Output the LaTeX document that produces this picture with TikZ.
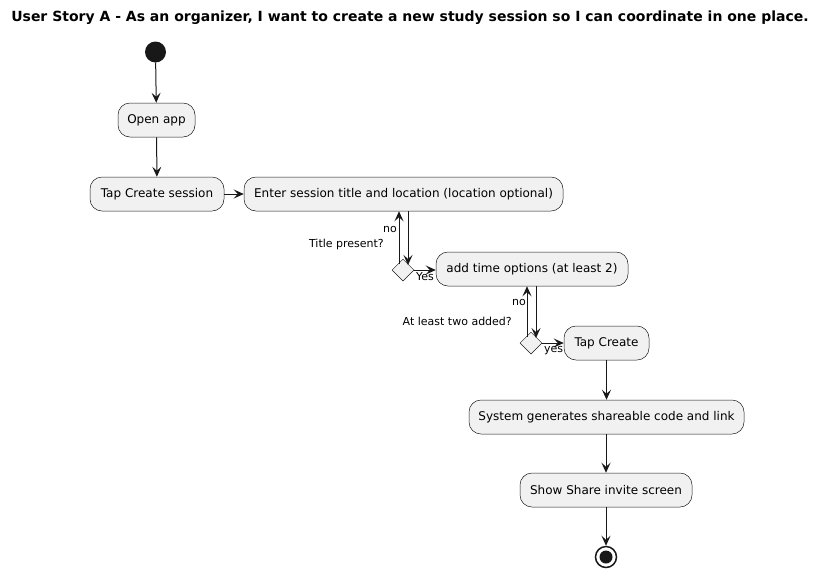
\documentclass[tikz,border=0pt]{standalone}
\usepackage{fontspec}
\setmainfont{DejaVu Sans}
\usetikzlibrary{arrows.meta,shapes.geometric}
\definecolor{lc}{HTML}{181818}
\definecolor{bf}{HTML}{F1F1F1}
\begin{document}
\begin{tikzpicture}[x=1pt,y=-1pt,
  act/.style={draw=lc,fill=bf,line width=0.5pt,rounded corners=12pt,minimum height=34pt,inner sep=0pt,font=\fontsize{12}{14}\selectfont},
  dec/.style={draw=lc,fill=bf,line width=0.5pt,diamond,minimum width=22pt,minimum height=22pt,inner sep=0pt},
  arr/.style={draw=lc,line width=1pt,-{Stealth[length=10pt,width=9pt,inset=4pt]}},
  lbl/.style={font=\fontsize{11}{13}\selectfont,inner sep=0pt}]
\useasboundingbox (0,0) rectangle (826,574);
\node[font=\bfseries\fontsize{14}{16}\selectfont] (title) at (410,18) {User Story A - As an organizer, I want to create a new study session so I can coordinate in one place.};
\node[circle,fill=lc,minimum size=21pt,inner sep=0pt] (start) at (155.5,52) {};
\node[act,minimum width=77pt] (open) at (156.5,120) {Open app};
\node[act,minimum width=134pt] (tap) at (157,194) {Tap Create session};
\node[act,minimum width=319pt] (enter) at (403.5,194) {Enter session title and location (location optional)};
\node[dec] (d1) at (403,270) {};
\node[act,minimum width=192pt] (add) at (532,269) {add time options (at least 2)};
\node[dec] (d2) at (531,343) {};
\node[act,minimum width=85pt] (create) at (606.5,343) {Tap Create};
\node[act,minimum width=275pt] (sys) at (606.5,417) {System generates shareable code and link};
\node[act,minimum width=172pt] (show) at (606,490) {Show Share invite screen};
\node[circle,draw=lc,line width=1.5pt,minimum size=21pt,inner sep=0pt] (end) at (606,557) {};
\node[circle,fill=lc,minimum size=13pt,inner sep=0pt] at (end) {};
\draw[arr] (start) -- (open);
\draw[arr] (open) -- (tap);
\draw[arr] (tap) -- (enter);
\draw[arr] (enter.south -| 408,0) -- (408,265);
\draw[arr] (399,264) -- (enter.south -| 399,0);
\draw[arr] (d1.east) -- (add.west |- d1.east);
\draw[arr] (add.south -| 536,0) -- (536,338);
\draw[arr] (527,337) -- (add.south -| 527,0);
\draw[arr] (d2.east) -- (create.west |- d2.east);
\draw[arr] (create.south) -- (sys.north -| create.south);
\draw[arr] (sys.south -| show.north) -- (show.north);
\draw[arr] (show.south) -- (end.north);
\node[lbl,anchor=east] (no1) at (397,229) {no};
\node[lbl,anchor=east] (q1) at (384,244) {Title present?};
\node[lbl,anchor=west] (yes1) at (416,277) {Yes};
\node[lbl,anchor=east] (no2) at (526,302) {no};
\node[lbl,anchor=east] (q2) at (512,321) {At least two added?};
\node[lbl,anchor=west] (yes2) at (544,351) {yes};
\end{tikzpicture}
\end{document}
